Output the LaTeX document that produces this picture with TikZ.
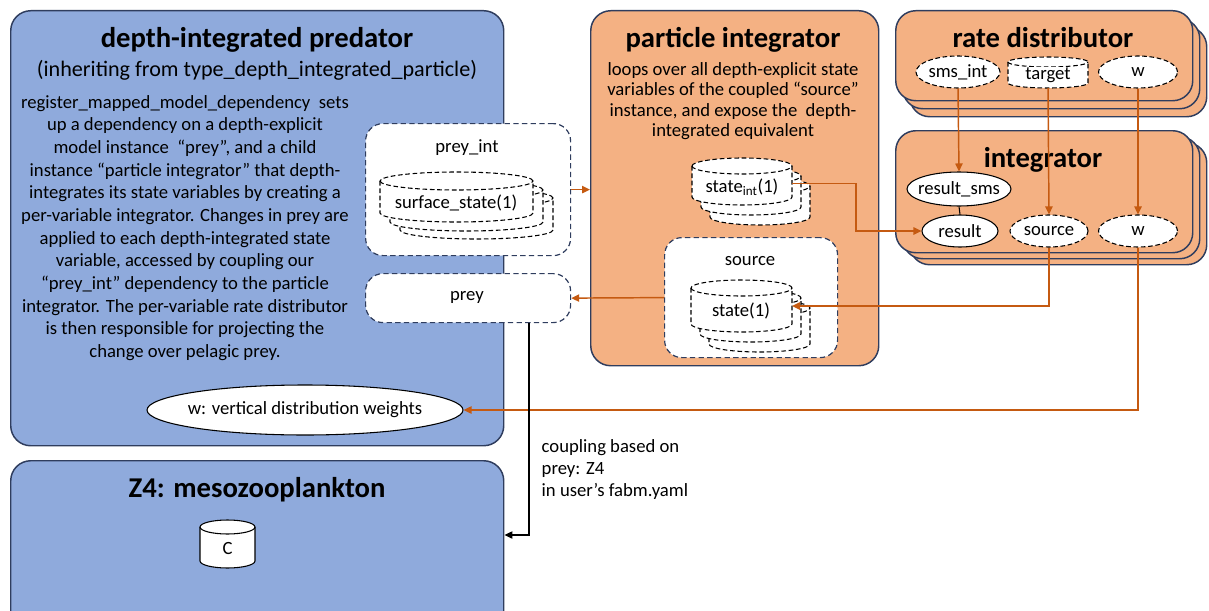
\documentclass[tikz,border=0pt]{standalone}
\usepackage{fontspec}
\setmainfont{Carlito}
\usetikzlibrary{shapes.geometric,arrows.meta}
\definecolor{bluefill}{HTML}{8FAADC}
\definecolor{orfill}{HTML}{F4B183}
\definecolor{navy}{HTML}{2F3D5E}
\definecolor{oline}{HTML}{C55A11}
\tikzset{
  sz/.style 2 args={minimum width=#1*0.75pt, minimum height=#2*0.75pt},
  panel/.style={draw=navy, line width=1.1pt, rounded corners=15pt, anchor=north west, inner sep=0pt},
  bluepanel/.style={panel, fill=bluefill},
  orpanel/.style={panel, fill=orfill},
  dbox/.style={draw=navy, dash pattern=on 4pt off 2.5pt, line width=0.9pt, fill=white,
    rounded corners=13pt, anchor=north west, inner sep=0pt},
  dcyl/.style={draw=black, dash pattern=on 3.5pt off 2pt, line width=0.8pt, fill=white},
  scyl/.style={draw=black, line width=0.8pt, fill=white},
  dell/.style={ellipse, draw=black, dash pattern=on 3.5pt off 2pt, line width=0.8pt, fill=white, inner sep=0pt},
  sell/.style={ellipse, draw=black, line width=0.8pt, fill=white, inner sep=0pt},
  txt/.style={label={[lab]center:#1}},
  oarr/.style={draw=oline, line width=1.1pt, -{Triangle[length=6pt,width=5.5pt]}},
  barr/.style={draw=black, line width=0.9pt, -{Triangle[length=6pt,width=5.5pt]}},
  ttl/.style={font=\fontsize{21.5}{25}\selectfont\bfseries},
  lab/.style={font=\fontsize{14}{16}\selectfont},
}
% upright cylinder: [style]{name}{centre x}{top y}{width}{height}{ellipse half-depth}
\newcommand\drum[7][]{%
  \path[#1] (#3-#5/2, #4+#7) -- (#3-#5/2, #4+#6-#7)
    arc[start angle=180, end angle=360, x radius=#5*0.375pt, y radius=#7*0.75pt]
    -- (#3+#5/2, #4+#7)
    arc[start angle=0, end angle=180, x radius=#5*0.375pt, y radius=#7*0.75pt] -- cycle;
  \path[#1, fill=none] (#3-#5/2, #4+#7)
    arc[start angle=180, end angle=360, x radius=#5*0.375pt, y radius=#7*0.75pt];
  \coordinate (#2) at (#3, #4+#6/2);
  \coordinate (#2-e) at (#3+#5/2, #4+#6/2);
  \coordinate (#2-s) at (#3, #4+#6);
}
\begin{document}
\begin{tikzpicture}[x=0.75pt,y=-0.75pt]
\useasboundingbox (0,0) rectangle (1209,610);
\clip (0,0) rectangle (1209,610);

% ---------- depth-integrated predator ----------
\node[bluepanel, sz={493}{435}] (pred) at (10,10) {};
\node[ttl] (predT) at (257,40) {depth-integrated predator};
\node[font=\fontsize{16.6}{19}\selectfont] (predS) at (257,70) {(inheriting from type\_depth\_integrated\_particle)};
\node[font=\fontsize{14}{17}\selectfont, align=center] (predD) at (185,228) {%
register\_mapped\_model\_dependency\ \ sets\\
up a dependency on a depth-explicit\\
model instance\ \ “prey”, and a child\\
instance “particle integrator” that depth-\\
integrates its state variables by creating a\\
per-variable integrator. Changes in prey are\\
applied to each depth-integrated state\\
variable, accessed by coupling our\\
“prey\_int” dependency to the particle\\
integrator. The per-variable rate distributor\\
is then responsible for projecting the\\
change over pelagic prey.};

% ---------- Z4 ----------
\node[bluepanel, sz={493}{170}] (z4) at (10,460) {};
\node[ttl] (z4T) at (257,490) {Z4: mesozooplankton};
\drum[scyl]{C}{227.5}{520}{55}{48}{7}
\node[lab] (Ct) at (227.5,548) {C};

% ---------- particle integrator ----------
\node[orpanel, sz={288}{355}] (pint) at (590,10) {};
\node[ttl] (pintT) at (733,40) {particle integrator};
\node[font=\fontsize{14}{15.4}\selectfont, align=center] (pintD) at (733,101) {%
loops over all depth-explicit state\\
variables of the coupled “source”\\
instance, and expose the\ \ depth-\\
integrated equivalent};

% ---------- rate distributor (stacked) ----------
\node[orpanel, sz={297}{90}] (rd3) at (909,26) {};
\node[orpanel, sz={297}{90}] (rd2) at (902,18) {};
\node[orpanel, sz={297}{90}] (rd) at (895,10) {};
\node[ttl] (rdT) at (1043,38) {rate distributor};
\node[dell, sz={84}{32}, txt=sms\_int] (smsint) at (958,72) {};
\drum[dcyl]{target}{1048}{57}{80}{31}{5}
\node[dell, sz={79}{32}, txt=w] (w1) at (1138,72) {};

% ---------- integrator (stacked) ----------
\node[orpanel, sz={297}{122}] (ig3) at (909,142) {};
\node[orpanel, sz={297}{122}] (ig2) at (902,136) {};
\node[orpanel, sz={297}{122}] (ig) at (895,130) {};
\node[ttl] (igT) at (1043,160) {integrator};
\node[sell, sz={104}{34}, txt=result\_sms] (rsms) at (959,189) {};
\node[sell, sz={76}{32}, txt=result] (result) at (960,231) {};
\node[dell, sz={78}{32}, txt=source] (src) at (1049,231) {};
\node[dell, sz={79}{32}, txt=w] (w2) at (1138,231) {};

% ---------- prey_int dependency ----------
\node[dbox, sz={205}{132}] (preyint) at (365,123) {};
\node[lab] (preyintT) at (467,148) {prey\_int};
\drum[dcyl]{ss3}{476.5}{189}{153}{50}{9}
\drum[dcyl]{ss2}{466.5}{181}{153}{50}{9}
\drum[dcyl]{ss}{456.5}{172}{153}{50}{9}
\node[lab] (ssT) at (456,203) {surface\_state(1)};

% ---------- prey dependency ----------
\node[dbox, sz={205}{49}] (prey) at (365,273) {};
\node[lab] (preyT) at (467,297) {prey};

% ---------- depth-integrated state ----------
\drum[dcyl]{si3}{760}{178}{100}{47}{8}
\drum[dcyl]{si2}{751}{168}{100}{47}{8}
\drum[dcyl]{si}{742}{158}{100}{47}{8}
\node[lab] (siT) at (742,187) {state\textsubscript{int}(1)};

% ---------- source ----------
\node[dbox, sz={173}{120}] (srcbox) at (664,237) {};
\node[lab] (srcT) at (750,261) {source};
\drum[dcyl]{st3}{759.5}{300}{101}{52}{8}
\drum[dcyl]{st2}{750.5}{290}{101}{52}{8}
\drum[dcyl]{st}{741.5}{280}{101}{52}{8}
\node[lab] (stT) at (741,311) {state(1)};

% ---------- vertical distribution weights ----------
\node[sell, sz={316}{50}, txt=w: vertical distribution weights] (wv) at (305,410) {};

% ---------- coupling note ----------
\node[font=\fontsize{14}{16.5}\selectfont, align=left, anchor=west] (note) at (537,470) {%
coupling based on\\ prey: Z4\\ in user’s fabm.yaml};

% ---------- connectors ----------
\draw[oarr] (preyint.east) -- (preyint.east -| pint.west);
\draw[oarr] (srcbox.west) -- (prey.east);
\draw[oarr] (si-e) ++(0,2) -- ++(64,0) |- (result.west);
\draw[oarr] (src.south) |- (st-e);
\draw[oarr] (w2.south) |- (wv.east);
\draw[oarr] (smsint.south) -- (rsms.north);
\draw[oarr] (target-s) -- (src.north);
\draw[oarr] (w1.south) -- (w2.north);
\draw[line width=0.8pt] (rsms.south) -- (result.north);
\coordinate (cpl) at (529,535);
\draw[barr] (prey.south -| cpl) -- (cpl) -- (cpl -| z4.east);

% cylinder label drawn on top of everything
\node[lab, fill=white, inner sep=0.3pt] (targetT) at (1048,75) {target};
\end{tikzpicture}
\end{document}
